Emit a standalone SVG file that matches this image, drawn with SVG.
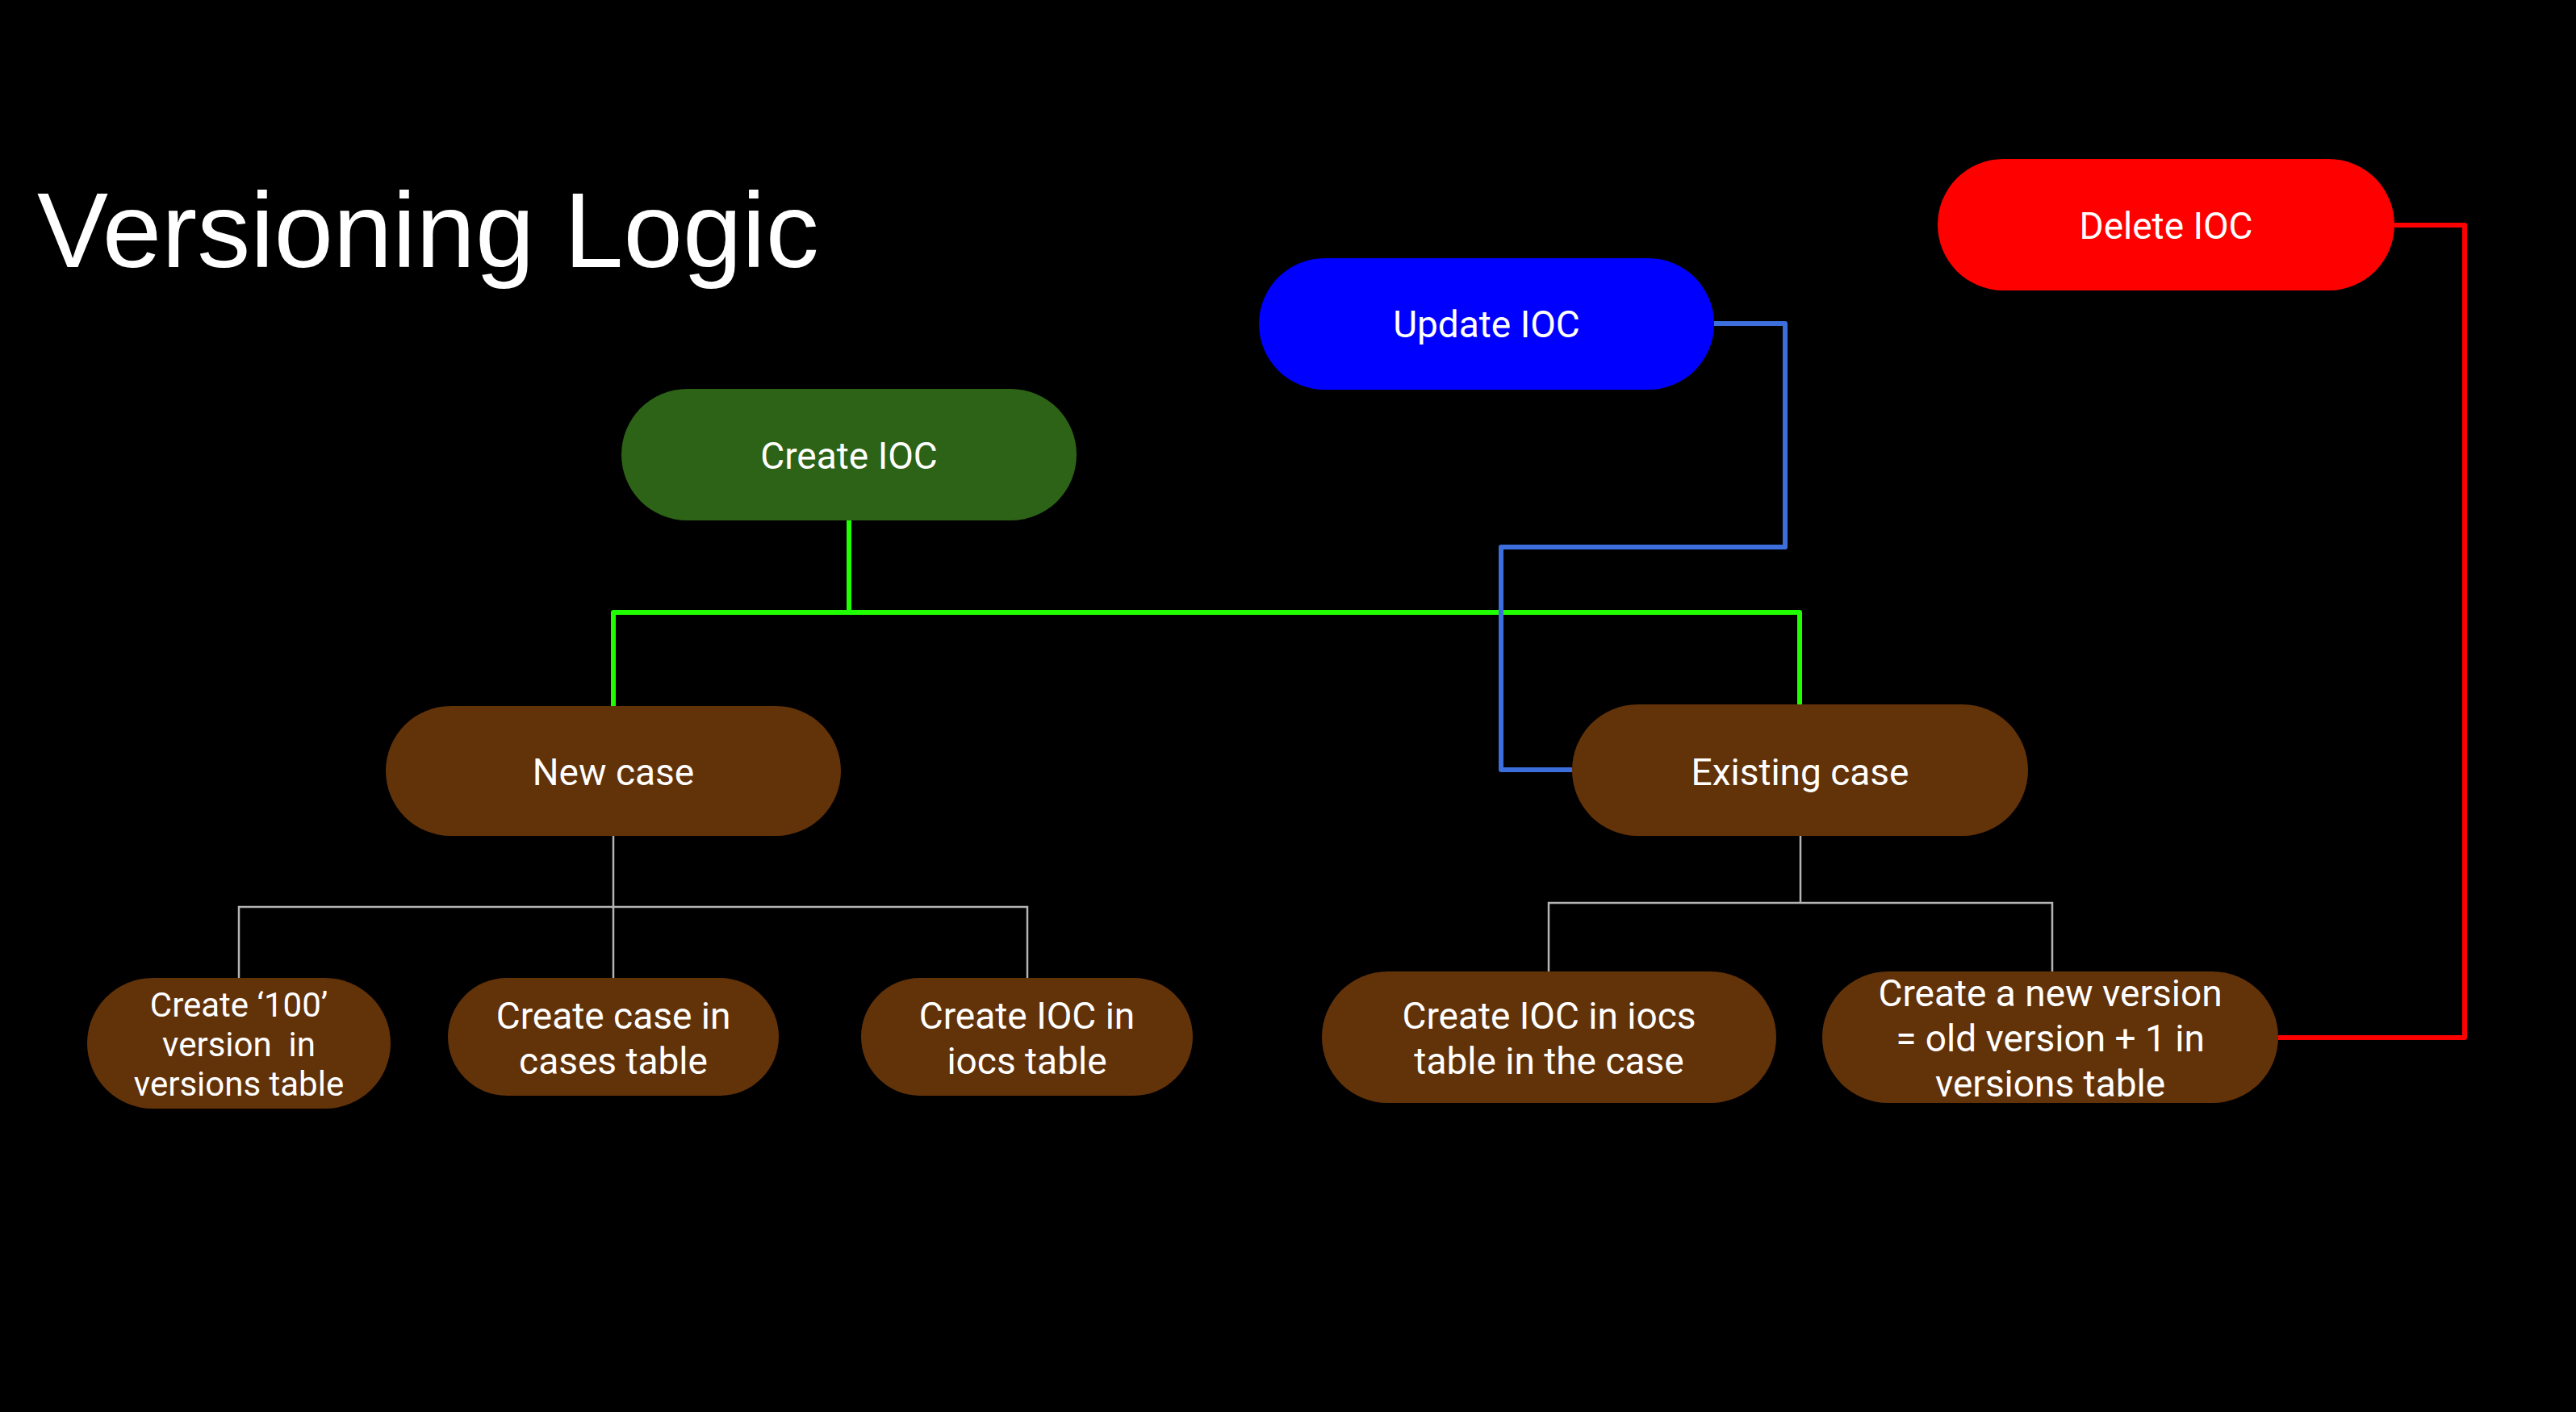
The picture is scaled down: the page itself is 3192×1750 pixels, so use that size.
<svg xmlns="http://www.w3.org/2000/svg" width="3192" height="1750" viewBox="0 0 3192 1750">
<style>
.t{font-family:Roboto,"Noto Sans","Liberation Sans",sans-serif;fill:#ffffff;text-anchor:middle;font-size:46px}
.s{font-size:42px}
.brown{fill:#623209}
.g{fill:none;stroke:#1fff00;stroke-width:6;stroke-linejoin:round}
.b{fill:none;stroke:#3c6edc;stroke-width:6;stroke-linejoin:round}
.r{fill:none;stroke:#ff0000;stroke-width:6;stroke-linejoin:round}
.gr{fill:none;stroke:#b4b4b4;stroke-width:2.5}
</style>
<rect x="0" y="0" width="3192" height="1750" fill="#000000"/>
<text x="46" y="331" font-family="'Liberation Sans',Arial,sans-serif" font-size="132" fill="#ffffff">Versioning Logic</text>
<g id="connectors">
<path class="g" d="M1052 645 V759 M760 875 V759 H2230 V873"/>
<path class="b" d="M2124 401 H2212 V678 H1860 V954 H1948"/>
<path class="r" d="M2967 279 H3054 V1286 H2823"/>
<path class="gr" d="M760 1036 V1124 M296 1212 V1124 H1273 V1212 M760 1124 V1212"/>
<path class="gr" d="M2231 1036 V1119 M1919 1204 V1119 H2543 V1204"/>
</g>
<g id="delete-ioc">
<rect x="2401" y="197" width="566" height="163" rx="81.5" fill="#ff0000"/>
<text class="t" x="2684" y="296">Delete IOC</text>
</g>
<g id="update-ioc">
<rect x="1560" y="320" width="564" height="163" rx="81.5" fill="#0000ff"/>
<text class="t" x="1842" y="418">Update IOC</text>
</g>
<g id="create-ioc">
<rect x="770" y="482" width="564" height="163" rx="81.5" fill="#2d6316"/>
<text class="t" x="1052" y="581">Create IOC</text>
</g>
<g id="new-case">
<rect class="brown" x="478" y="875" width="564" height="161" rx="80.5"/>
<text class="t" x="760" y="973">New case</text>
</g>
<g id="existing-case">
<rect class="brown" x="1948" y="873" width="565" height="163" rx="81.5"/>
<text class="t" x="2230.5" y="973">Existing case</text>
</g>
<g id="create-100-version">
<rect class="brown" x="108" y="1212" width="376" height="162" rx="81"/>
<text class="t s" x="296" y="1260">Create ‘100’</text>
<text class="t s" x="296" y="1309" xml:space="preserve">version  in</text>
<text class="t s" x="296" y="1358">versions table</text>
</g>
<g id="create-case">
<rect class="brown" x="555" y="1212" width="410" height="146" rx="73"/>
<text class="t" x="760" y="1275">Create case in</text>
<text class="t" x="760" y="1331">cases table</text>
</g>
<g id="create-ioc-iocs">
<rect class="brown" x="1067" y="1212" width="411" height="146" rx="73"/>
<text class="t" x="1272.5" y="1275">Create IOC in</text>
<text class="t" x="1272.5" y="1331">iocs table</text>
</g>
<g id="create-ioc-in-case">
<rect class="brown" x="1638" y="1204" width="563" height="163" rx="81.5"/>
<text class="t" x="1919.5" y="1275">Create IOC in iocs</text>
<text class="t" x="1919.5" y="1331">table in the case</text>
</g>
<g id="create-new-version">
<rect class="brown" x="2258" y="1204" width="565" height="163" rx="81.5"/>
<text class="t" x="2540.5" y="1247">Create a new version</text>
<text class="t" x="2540.5" y="1303">= old version + 1 in</text>
<text class="t" x="2540.5" y="1359">versions table</text>
</g>
</svg>
